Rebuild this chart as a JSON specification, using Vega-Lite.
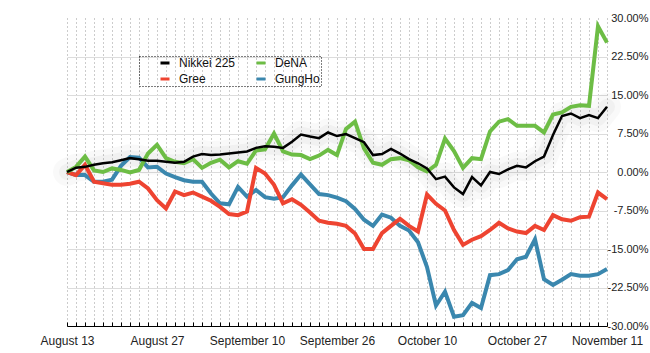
{
  "$schema": "https://vega.github.io/schema/vega-lite/v6.json",
  "width": 540,
  "height": 308,
  "autosize": {"type": "none"},
  "padding": {"left": 67, "top": 18, "right": 43, "bottom": 27},
  "background": "white",
  "config": {"view": {"stroke": null}, "font": "Liberation Sans"},
  "data": {"values": [
    {"i":0,"s":"GungHo","v":0},{"i":1,"s":"GungHo","v":-0.6},{"i":2,"s":"GungHo","v":-0.6},{"i":3,"s":"GungHo","v":-1.9},{"i":4,"s":"GungHo","v":-1.9},{"i":5,"s":"GungHo","v":-1.5},{"i":6,"s":"GungHo","v":1.2},{"i":7,"s":"GungHo","v":2.9},{"i":8,"s":"GungHo","v":2.8},{"i":9,"s":"GungHo","v":0.9},{"i":10,"s":"GungHo","v":1.0},{"i":11,"s":"GungHo","v":-0.3},{"i":12,"s":"GungHo","v":-1.0},{"i":13,"s":"GungHo","v":-1.6},{"i":14,"s":"GungHo","v":-1.9},{"i":15,"s":"GungHo","v":-1.9},{"i":16,"s":"GungHo","v":-4.2},{"i":17,"s":"GungHo","v":-6.1},{"i":18,"s":"GungHo","v":-6.3},{"i":19,"s":"GungHo","v":-2.9},{"i":20,"s":"GungHo","v":-4.8},{"i":21,"s":"GungHo","v":-3.5},{"i":22,"s":"GungHo","v":-4.9},{"i":23,"s":"GungHo","v":-5.2},{"i":24,"s":"GungHo","v":-4.9},{"i":25,"s":"GungHo","v":-2.6},{"i":26,"s":"GungHo","v":-0.5},{"i":27,"s":"GungHo","v":-2.4},{"i":28,"s":"GungHo","v":-4.3},{"i":29,"s":"GungHo","v":-4.5},{"i":30,"s":"GungHo","v":-5.0},{"i":31,"s":"GungHo","v":-5.7},{"i":32,"s":"GungHo","v":-7.2},{"i":33,"s":"GungHo","v":-9.3},{"i":34,"s":"GungHo","v":-10.5},{"i":35,"s":"GungHo","v":-8.3},{"i":36,"s":"GungHo","v":-8.9},{"i":37,"s":"GungHo","v":-10.5},{"i":38,"s":"GungHo","v":-11.4},{"i":39,"s":"GungHo","v":-13.7},{"i":40,"s":"GungHo","v":-18.5},{"i":41,"s":"GungHo","v":-26.0},{"i":42,"s":"GungHo","v":-23.3},{"i":43,"s":"GungHo","v":-28.2},{"i":44,"s":"GungHo","v":-27.9},{"i":45,"s":"GungHo","v":-25.5},{"i":46,"s":"GungHo","v":-26.5},{"i":47,"s":"GungHo","v":-20.1},{"i":48,"s":"GungHo","v":-19.9},{"i":49,"s":"GungHo","v":-19.1},{"i":50,"s":"GungHo","v":-17.0},{"i":51,"s":"GungHo","v":-16.5},{"i":52,"s":"GungHo","v":-13.1},{"i":53,"s":"GungHo","v":-20.9},{"i":54,"s":"GungHo","v":-22.0},{"i":55,"s":"GungHo","v":-21.0},{"i":56,"s":"GungHo","v":-19.9},{"i":57,"s":"GungHo","v":-20.2},{"i":58,"s":"GungHo","v":-20.2},{"i":59,"s":"GungHo","v":-19.9},{"i":60,"s":"GungHo","v":-18.9},
    {"i":0,"s":"Gree","v":0},{"i":1,"s":"Gree","v":-0.6},{"i":2,"s":"Gree","v":1.4},{"i":3,"s":"Gree","v":-1.9},{"i":4,"s":"Gree","v":-2.2},{"i":5,"s":"Gree","v":-2.5},{"i":6,"s":"Gree","v":-2.5},{"i":7,"s":"Gree","v":-2.3},{"i":8,"s":"Gree","v":-1.9},{"i":9,"s":"Gree","v":-3.2},{"i":10,"s":"Gree","v":-5.5},{"i":11,"s":"Gree","v":-7.1},{"i":12,"s":"Gree","v":-3.8},{"i":13,"s":"Gree","v":-4.5},{"i":14,"s":"Gree","v":-4.0},{"i":15,"s":"Gree","v":-4.8},{"i":16,"s":"Gree","v":-5.6},{"i":17,"s":"Gree","v":-6.8},{"i":18,"s":"Gree","v":-8.2},{"i":19,"s":"Gree","v":-8.4},{"i":20,"s":"Gree","v":-7.7},{"i":21,"s":"Gree","v":0.8},{"i":22,"s":"Gree","v":-0.3},{"i":23,"s":"Gree","v":-2.5},{"i":24,"s":"Gree","v":-6.1},{"i":25,"s":"Gree","v":-5.3},{"i":26,"s":"Gree","v":-6.4},{"i":27,"s":"Gree","v":-7.9},{"i":28,"s":"Gree","v":-9.5},{"i":29,"s":"Gree","v":-9.9},{"i":30,"s":"Gree","v":-10.1},{"i":31,"s":"Gree","v":-10.5},{"i":32,"s":"Gree","v":-12.0},{"i":33,"s":"Gree","v":-15.0},{"i":34,"s":"Gree","v":-15.0},{"i":35,"s":"Gree","v":-11.9},{"i":36,"s":"Gree","v":-10.5},{"i":37,"s":"Gree","v":-9.1},{"i":38,"s":"Gree","v":-10.5},{"i":39,"s":"Gree","v":-11.6},{"i":40,"s":"Gree","v":-4.4},{"i":41,"s":"Gree","v":-6.2},{"i":42,"s":"Gree","v":-7.5},{"i":43,"s":"Gree","v":-11.3},{"i":44,"s":"Gree","v":-14.2},{"i":45,"s":"Gree","v":-13.2},{"i":46,"s":"Gree","v":-12.5},{"i":47,"s":"Gree","v":-11.3},{"i":48,"s":"Gree","v":-9.9},{"i":49,"s":"Gree","v":-11.0},{"i":50,"s":"Gree","v":-11.6},{"i":51,"s":"Gree","v":-11.9},{"i":52,"s":"Gree","v":-10.5},{"i":53,"s":"Gree","v":-11.3},{"i":54,"s":"Gree","v":-8.4},{"i":55,"s":"Gree","v":-9.2},{"i":56,"s":"Gree","v":-9.5},{"i":57,"s":"Gree","v":-8.8},{"i":58,"s":"Gree","v":-8.7},{"i":59,"s":"Gree","v":-4.0},{"i":60,"s":"Gree","v":-5.3},
    {"i":0,"s":"DeNA","v":0},{"i":1,"s":"DeNA","v":1.0},{"i":2,"s":"DeNA","v":3.0},{"i":3,"s":"DeNA","v":0.3},{"i":4,"s":"DeNA","v":0.0},{"i":5,"s":"DeNA","v":0.7},{"i":6,"s":"DeNA","v":0.4},{"i":7,"s":"DeNA","v":-0.1},{"i":8,"s":"DeNA","v":0.4},{"i":9,"s":"DeNA","v":3.6},{"i":10,"s":"DeNA","v":5.3},{"i":11,"s":"DeNA","v":2.7},{"i":12,"s":"DeNA","v":2.0},{"i":13,"s":"DeNA","v":1.7},{"i":14,"s":"DeNA","v":2.5},{"i":15,"s":"DeNA","v":0.8},{"i":16,"s":"DeNA","v":1.8},{"i":17,"s":"DeNA","v":2.4},{"i":18,"s":"DeNA","v":0.9},{"i":19,"s":"DeNA","v":2.1},{"i":20,"s":"DeNA","v":1.6},{"i":21,"s":"DeNA","v":4.2},{"i":22,"s":"DeNA","v":4.4},{"i":23,"s":"DeNA","v":7.5},{"i":24,"s":"DeNA","v":4.0},{"i":25,"s":"DeNA","v":3.4},{"i":26,"s":"DeNA","v":3.3},{"i":27,"s":"DeNA","v":2.5},{"i":28,"s":"DeNA","v":3.2},{"i":29,"s":"DeNA","v":4.3},{"i":30,"s":"DeNA","v":3.3},{"i":31,"s":"DeNA","v":8.4},{"i":32,"s":"DeNA","v":9.8},{"i":33,"s":"DeNA","v":4.6},{"i":34,"s":"DeNA","v":1.8},{"i":35,"s":"DeNA","v":1.4},{"i":36,"s":"DeNA","v":2.5},{"i":37,"s":"DeNA","v":2.7},{"i":38,"s":"DeNA","v":2.3},{"i":39,"s":"DeNA","v":0.9},{"i":40,"s":"DeNA","v":0.1},{"i":41,"s":"DeNA","v":1.4},{"i":42,"s":"DeNA","v":6.5},{"i":43,"s":"DeNA","v":4.1},{"i":44,"s":"DeNA","v":0.8},{"i":45,"s":"DeNA","v":2.7},{"i":46,"s":"DeNA","v":2.5},{"i":47,"s":"DeNA","v":7.9},{"i":48,"s":"DeNA","v":9.8},{"i":49,"s":"DeNA","v":10.3},{"i":50,"s":"DeNA","v":9.0},{"i":51,"s":"DeNA","v":9.0},{"i":52,"s":"DeNA","v":9.0},{"i":53,"s":"DeNA","v":7.7},{"i":54,"s":"DeNA","v":11.2},{"i":55,"s":"DeNA","v":11.6},{"i":56,"s":"DeNA","v":12.7},{"i":57,"s":"DeNA","v":13.0},{"i":58,"s":"DeNA","v":12.9},{"i":59,"s":"DeNA","v":28.4},{"i":60,"s":"DeNA","v":25.2},
    {"i":0,"s":"Nikkei 225","v":0},{"i":1,"s":"Nikkei 225","v":0.85},{"i":2,"s":"Nikkei 225","v":1.0},{"i":3,"s":"Nikkei 225","v":1.4},{"i":4,"s":"Nikkei 225","v":1.7},{"i":5,"s":"Nikkei 225","v":1.9},{"i":6,"s":"Nikkei 225","v":2.3},{"i":7,"s":"Nikkei 225","v":2.7},{"i":8,"s":"Nikkei 225","v":2.5},{"i":9,"s":"Nikkei 225","v":2.2},{"i":10,"s":"Nikkei 225","v":2.2},{"i":11,"s":"Nikkei 225","v":2.0},{"i":12,"s":"Nikkei 225","v":1.8},{"i":13,"s":"Nikkei 225","v":2.0},{"i":14,"s":"Nikkei 225","v":3.0},{"i":15,"s":"Nikkei 225","v":3.5},{"i":16,"s":"Nikkei 225","v":3.3},{"i":17,"s":"Nikkei 225","v":3.4},{"i":18,"s":"Nikkei 225","v":3.6},{"i":19,"s":"Nikkei 225","v":3.8},{"i":20,"s":"Nikkei 225","v":4.0},{"i":21,"s":"Nikkei 225","v":4.7},{"i":22,"s":"Nikkei 225","v":5.0},{"i":23,"s":"Nikkei 225","v":4.9},{"i":24,"s":"Nikkei 225","v":4.7},{"i":25,"s":"Nikkei 225","v":5.9},{"i":26,"s":"Nikkei 225","v":7.3},{"i":27,"s":"Nikkei 225","v":6.9},{"i":28,"s":"Nikkei 225","v":6.6},{"i":29,"s":"Nikkei 225","v":7.7},{"i":30,"s":"Nikkei 225","v":7.0},{"i":31,"s":"Nikkei 225","v":7.4},{"i":32,"s":"Nikkei 225","v":6.6},{"i":33,"s":"Nikkei 225","v":5.8},{"i":34,"s":"Nikkei 225","v":3.3},{"i":35,"s":"Nikkei 225","v":3.5},{"i":36,"s":"Nikkei 225","v":4.5},{"i":37,"s":"Nikkei 225","v":3.6},{"i":38,"s":"Nikkei 225","v":2.5},{"i":39,"s":"Nikkei 225","v":1.7},{"i":40,"s":"Nikkei 225","v":0.7},{"i":41,"s":"Nikkei 225","v":-1.4},{"i":42,"s":"Nikkei 225","v":-0.9},{"i":43,"s":"Nikkei 225","v":-3.0},{"i":44,"s":"Nikkei 225","v":-4.3},{"i":45,"s":"Nikkei 225","v":-1.0},{"i":46,"s":"Nikkei 225","v":-2.6},{"i":47,"s":"Nikkei 225","v":0.0},{"i":48,"s":"Nikkei 225","v":-0.4},{"i":49,"s":"Nikkei 225","v":0.5},{"i":50,"s":"Nikkei 225","v":1.2},{"i":51,"s":"Nikkei 225","v":0.9},{"i":52,"s":"Nikkei 225","v":2.1},{"i":53,"s":"Nikkei 225","v":3.0},{"i":54,"s":"Nikkei 225","v":7.2},{"i":55,"s":"Nikkei 225","v":10.9},{"i":56,"s":"Nikkei 225","v":11.4},{"i":57,"s":"Nikkei 225","v":10.5},{"i":58,"s":"Nikkei 225","v":11.1},{"i":59,"s":"Nikkei 225","v":10.5},{"i":60,"s":"Nikkei 225","v":12.7}
  ]},
  "encoding": {
    "x": {
      "field": "i", "type": "quantitative",
      "scale": {"domain": [0, 60], "nice": false, "zero": false},
      "axis": {
        "title": null,
        "values": [0,1,2,3,4,5,6,7,8,9,10,11,12,13,14,15,16,17,18,19,20,21,22,23,24,25,26,27,28,29,30,31,32,33,34,35,36,37,38,39,40,41,42,43,44,45,46,47,48,49,50,51,52,53,54,55,56,57,58,59,60],
        "labelExpr": "datum.value==0?'August 13':datum.value==10?'August 27':datum.value==20?'September 10':datum.value==30?'September 26':datum.value==40?'October 10':datum.value==50?'October 27':datum.value==60?'November 11':''",
        "labelOverlap": false, "labelFlush": false,
        "labelFontSize": 12, "labelColor": "#222", "labelPadding": 13,
        "grid": true, "gridDash": [1, 3], "gridColor": "#999", "gridWidth": 1,
        "domainColor": "#000", "domainWidth": 1,
        "tickColor": "#000", "tickSize": -4, "tickWidth": 1
      }
    },
    "y": {
      "field": "v", "type": "quantitative",
      "scale": {"domain": [-30, 30], "nice": false},
      "axis": {
        "title": null, "orient": "right",
        "values": [-30, -22.5, -15, -7.5, 0, 7.5, 15, 22.5, 30],
        "labelExpr": "(datum.value < 0 ? '-' : '') + format(abs(datum.value), '.2f') + '%'",
        "domain": false, "ticks": false,
        "labelAlign": "right", "labelPadding": 41,
        "labelFontSize": 11, "labelColor": "#222",
        "grid": true, "gridColor": "#dcdcdc",
        "gridOpacity": {"condition": {"test": "datum.value == 30", "value": 0}, "value": 1}
      }
    }
  },
  "layer": [
    {
      "transform": [{"filter": "datum.s == 'Nikkei 225'"}],
      "mark": {"type": "line", "color": "#000", "opacity": 0.025, "strokeWidth": 28, "strokeCap": "round", "strokeJoin": "round"}
    },
    {
      "transform": [{"filter": "datum.s == 'Nikkei 225'"}],
      "mark": {"type": "line", "color": "#000", "opacity": 0.03, "strokeWidth": 16, "strokeCap": "round", "strokeJoin": "round"}
    },
    {
      "transform": [{"filter": "datum.s != 'Nikkei 225'"}],
      "mark": {"type": "line", "strokeWidth": 4, "strokeJoin": "miter"},
      "encoding": {
        "color": {
          "field": "s", "type": "nominal",
          "scale": {"domain": ["Nikkei 225", "Gree", "DeNA", "GungHo"], "range": ["#000000", "#ee4431", "#6dbd45", "#3a87ae"]},
          "legend": {
            "title": null, "orient": "none", "legendX": 72, "legendY": 38,
            "columns": 2, "symbolType": "stroke", "symbolStrokeWidth": 3, "symbolSize": 81,
            "labelFontSize": 12, "labelColor": "#111", "labelOffset": 8,
            "labelExpr": "datum.label == 'DeNA' || datum.label == 'GungHo' ? datum.label + '\u00a0\u00a0\u00a0\u00a0\u00a0\u00a0' : datum.label",
            "columnPadding": 0, "rowPadding": 4, "padding": 1, "symbolOffset": 19,
            "strokeColor": "#000",
            "encode": {"legend": {"update": {"strokeDash": {"value": [1, 2]}}}}
          }
        }
      }
    },
    {
      "transform": [{"filter": "datum.s == 'Nikkei 225'"}],
      "mark": {"type": "line", "strokeWidth": 2.5, "strokeJoin": "miter"},
      "encoding": {
        "color": {"field": "s", "type": "nominal"}
      }
    }
  ]
}
